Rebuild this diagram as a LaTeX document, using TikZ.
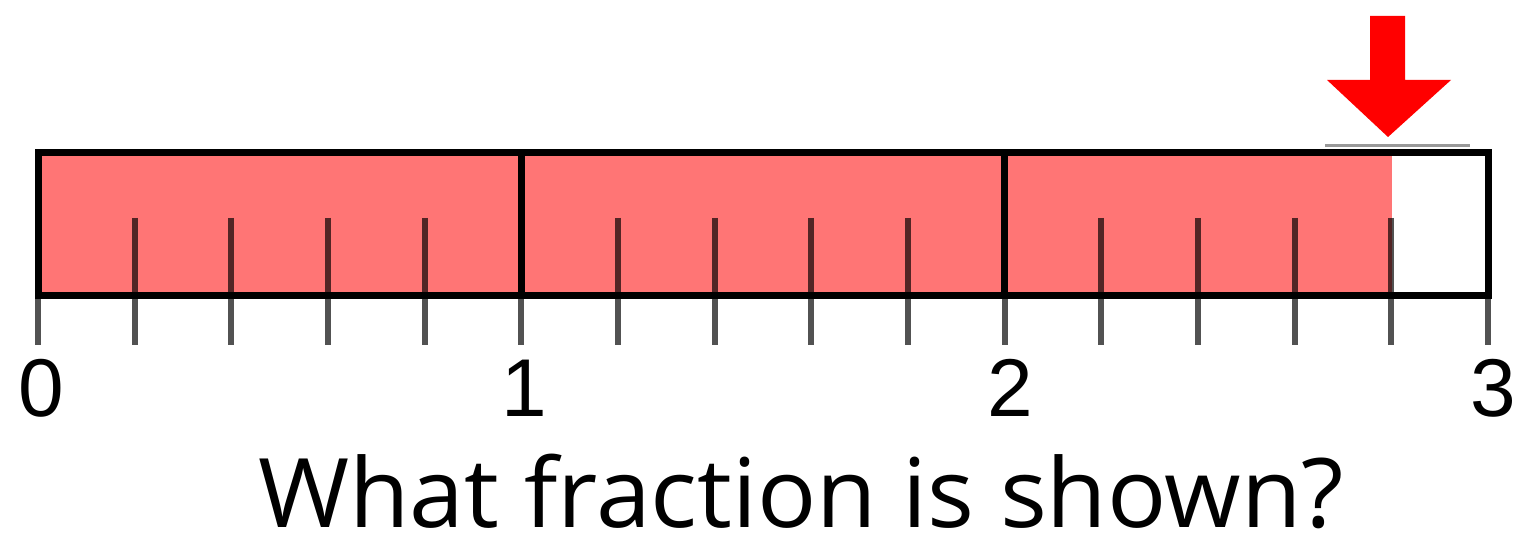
\documentclass[tikz,border=0pt]{standalone}
\usepackage{fontspec}
\setmainfont{Liberation Sans}
\newfontfamily\qfont{Open Sans}
\definecolor{barpink}{RGB}{255,117,117}
\definecolor{arrowred}{RGB}{255,0,0}
\tikzset{
  frame/.style={draw=black, line width=7pt},
  minortick/.style={draw=black, draw opacity=0.68, line width=6pt},
  majortick/.style={draw=black, draw opacity=0.68, line width=6pt},
  divider/.style={draw=black, line width=7pt},
  digit/.style={anchor=base, inner sep=0pt, font=\fontsize{82}{82}\selectfont},
}
\begin{document}
\begin{tikzpicture}[x=1pt,y=-1pt]
\useasboundingbox (0,0) rectangle (1520,534);
\fill[white] (0,0) rectangle (1520,534);
% fill
\fill[barpink] (38,153) rectangle (1392,296);
% minor ticks (inside bar down to below)
\foreach \k in {1,2,3,4,6,7,8,9,11,12,13,14}{
  \draw[minortick] ({38+\k*96.667},218) -- ({38+\k*96.667},345);
}
% integer ticks below bar
\foreach \k in {0,5,10,15}{
  \draw[majortick] ({38+\k*96.667},296) -- ({38+\k*96.667},345);
}
% dividers
\draw[divider] (521.3,153) -- (521.3,296);
\draw[divider] (1004.7,153) -- (1004.7,296);
% frame
\draw[frame] (38,153) rectangle (1488,296);
% artifact line above top
\draw[black!40, line width=3pt] (1325,146) -- (1470,146);
% arrow
\fill[arrowred] (1370,16) -- (1405,16) -- (1405,80) -- (1451,80) -- (1388,137) -- (1327,80) -- (1370,80) -- cycle;
% digits
\node[digit] (d0) at (41,416) {0};
\node[digit] (d1) at (524,416) {1};
\node[digit] (d2) at (1010,416) {2};
\node[digit] (d3) at (1493,416) {3};
% question
\node[anchor=base, inner sep=0pt, text depth=0pt, font=\qfont\fontsize{96}{96}\selectfont] (q) at (801,527) {\scalebox{1.025}[1]{What fraction is shown?}};
\end{tikzpicture}
\end{document}
